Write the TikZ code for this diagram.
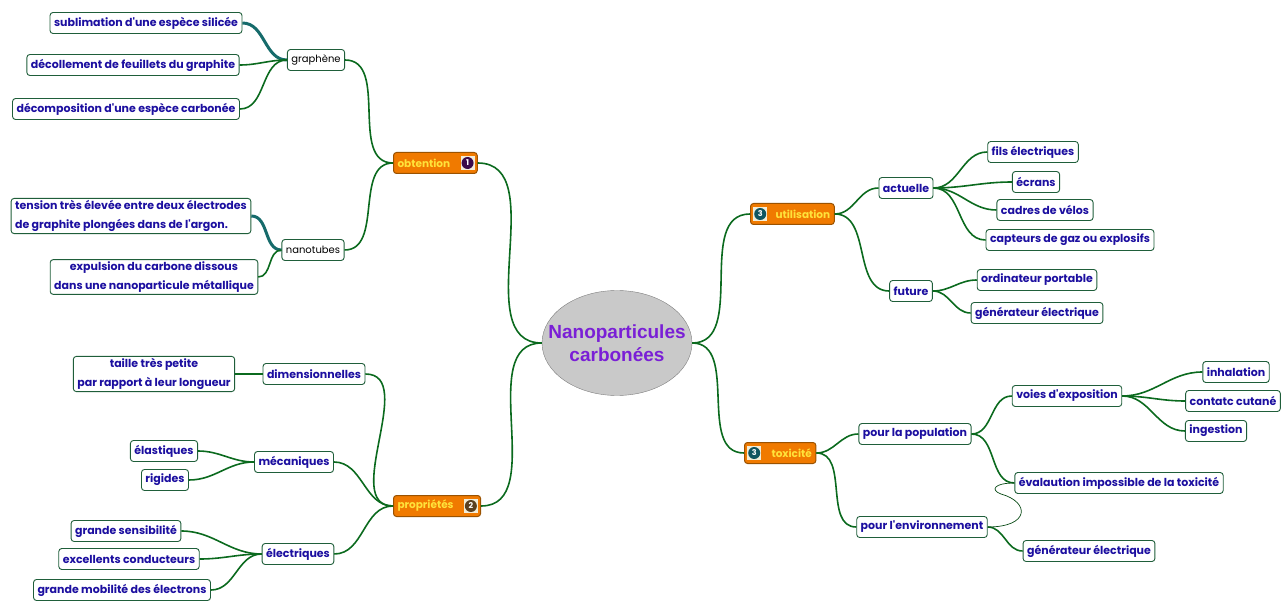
\documentclass[tikz,border=0pt]{standalone}
\usepackage{fontspec}
\setmainfont{Poppins}[Ligatures=TeXOff]
\newfontfamily\arialfont{Liberation Sans}
\usetikzlibrary{positioning,shapes.geometric}

\definecolor{leafblue}{HTML}{1C0FA0}
\definecolor{boxline}{HTML}{1F5E3A}
\definecolor{linkgreen}{HTML}{0B6A1E}
\definecolor{teallink}{HTML}{166B6B}
\definecolor{branchfill}{HTML}{F07A00}
\definecolor{branchline}{HTML}{9A5200}
\definecolor{branchtext}{HTML}{FFE23A}
\definecolor{coregray}{HTML}{C9C9C9}
\definecolor{coretext}{HTML}{7A1FD6}
\definecolor{badgeone}{HTML}{3A0A4A}
\definecolor{badgetwo}{HTML}{5A4020}
\definecolor{badgethree}{HTML}{0F5560}
\definecolor{badgebgcol}{HTML}{F2EDD8}

\tikzset{
  leaf/.style={draw=boxline, line width=0.9pt, fill=white, rounded corners=3pt,
    text=leafblue, font=\bfseries\fontsize{11}{19}\selectfont,
    inner xsep=4pt, inner ysep=2pt, minimum height=21pt},
  plain/.style={leaf, text=black, font=\fontsize{10}{12}\selectfont},
  branch/.style={draw=branchline, line width=1pt, fill=branchfill, rounded corners=3pt,
    text=branchtext, font=\bfseries\fontsize{10.5}{12}\selectfont,
    inner xsep=4pt, inner ysep=0pt, minimum height=21pt},
  badgebg/.style={fill=badgebgcol, minimum size=14pt, inner sep=0pt},
  badge/.style={circle, text=white, font=\bfseries\fontsize{8}{8}\selectfont,
    minimum size=12pt, inner sep=0pt},
  link/.style={draw=linkgreen, line width=1.6pt},
  thick link/.style={draw=teallink, line width=3pt},
  thin link/.style={draw=linkgreen!70!black, line width=0.7pt}
}

\begin{document}
\begin{tikzpicture}[x=1pt, y=-1pt]
    \useasboundingbox (0,0) rectangle (1285,601);

    % centre
    \node[ellipse, draw=gray, fill=coregray, minimum width=150, minimum height=105,
      inner xsep=-22pt, inner ysep=0pt,
      text=coretext, align=center, font=\arialfont\bfseries\fontsize{19}{23}\selectfont]
      (core) at (617,343) {Nanoparticules\\carbonées};

    % obtention
    \node[branch, anchor=west] (obt) at (393,163) {obtention\kern23pt};
    \node[badgebg, left=3pt of obt.east] (obtbg) {};
    \node[badge, fill=badgeone] (obtnum) at (obtbg) {1};
    \node[plain] (gra) at (316,60) {graphène};
    \node[leaf] (sub) at (146,23) {sublimation d'une espèce silicée};
    \node[leaf] (dec) at (133,65) {décollement de feuillets du graphite};
    \node[leaf] (dcp) at (126,109) {décomposition d'une espèce carbonée};
    \node[plain] (nano) at (313,250) {nanotubes};
    \node[leaf, align=left] (ten) at (131,216) {tension très élevée entre deux électrodes\\de graphite plongées dans de l'argon.};
    \node[leaf, align=center] (expu) at (154,277) {expulsion du carbone dissous\\dans une nanoparticule métallique};

    % propriétés
    \node[branch, anchor=west] (prop) at (393,506) {propriétés\kern23pt};
    \node[badgebg, left=3pt of prop.east] (propbg) {};
    \node[badge, fill=badgetwo] (propnum) at (propbg) {2};
    \node[leaf] (dim) at (314,374) {dimensionnelles};
    \node[leaf, align=center] (taille) at (154,374) {taille très petite\\par rapport à leur longueur};
    \node[leaf] (mec) at (294,462) {mécaniques};
    \node[leaf] (ela) at (164,451) {élastiques};
    \node[leaf] (rig) at (165,480) {rigides};
    \node[leaf] (ele) at (298,554) {électriques};
    \node[leaf] (sens) at (126,531) {grande sensibilité};
    \node[leaf] (cond) at (129,559) {excellents conducteurs};
    \node[leaf] (mob) at (122,590) {grande mobilité des électrons};

    % utilisation
    \node[branch, anchor=west] (util) at (750,214) {\kern21pt utilisation};
    \node[badgebg, right=3pt of util.west] (utilbg) {};
    \node[badge, fill=badgethree] (utilnum) at (utilbg) {3};
    \node[leaf] (act) at (906,188) {actuelle};
    \node[leaf] (fils) at (1033,152) {fils électriques};
    \node[leaf] (ecr) at (1036,182) {écrans};
    \node[leaf] (cadr) at (1045,210) {cadres de vélos};
    \node[leaf] (capt) at (1070,240) {capteurs de gaz ou explosifs};
    \node[leaf] (fut) at (911,291) {future};
    \node[leaf] (ordi) at (1037,280) {ordinateur portable};
    \node[leaf] (gen) at (1037,313) {générateur électrique};

    % toxicité
    \node[branch, anchor=west] (tox) at (744,453) {\kern23pt toxicité};
    \node[badgebg, right=3pt of tox.west] (toxbg) {};
    \node[badge, fill=badgethree] (toxnum) at (toxbg) {3};
    \node[leaf] (pop) at (915,434) {pour la population};
    \node[leaf] (voie) at (1067,396) {voies d'exposition};
    \node[leaf] (inh) at (1236,372) {inhalation};
    \node[leaf] (cut) at (1233,401) {contatc cutané};
    \node[leaf] (ing) at (1216,431) {ingestion};
    \node[leaf] (eva) at (1119,483) {évalaution impossible de la toxicité};
    \node[leaf] (env) at (922,527) {pour l'environnement};
    \node[leaf] (gen2) at (1089,551) {générateur électrique};

    % liens
    \draw[link] (core.west) to[out=180,in=0] (obt.east);
    \draw[link] (core.west) to[out=180,in=0] (prop.east);
    \draw[link] (core.east) to[out=0,in=180] (util.west);
    \draw[link] (core.east) to[out=0,in=180] (tox.west);

    \draw[link] (obt.west) to[out=180,in=0] (gra.east);
    \draw[link] (obt.west) to[out=180,in=0] (nano.east);
    \draw[thick link] (gra.west) to[out=180,in=0] (sub.east);
    \draw[link] (gra.west) to[out=180,in=0] (dec.east);
    \draw[link] (gra.west) to[out=180,in=0] (dcp.east);
    \draw[thick link] (nano.west) to[out=180,in=0] (ten.east);
    \draw[link] (nano.west) to[out=180,in=0] (expu.east);

    \draw[link] (prop.west) to[out=180,in=0] (dim.east);
    \draw[link] (prop.west) to[out=180,in=0] (mec.east);
    \draw[link] (prop.west) to[out=180,in=0] (ele.east);
    \draw[link] (dim.west) to[out=180,in=0] (taille.east);
    \draw[link] (mec.west) to[out=180,in=0] (ela.east);
    \draw[link] (mec.west) to[out=180,in=0] (rig.east);
    \draw[link] (ele.west) to[out=180,in=0] (sens.east);
    \draw[link] (ele.west) to[out=180,in=0] (cond.east);
    \draw[link] (ele.west) to[out=180,in=0] (mob.east);

    \draw[link] (util.east) to[out=0,in=180] (act.west);
    \draw[link] (util.east) to[out=0,in=180] (fut.west);
    \draw[link] (act.east) to[out=0,in=180] (fils.west);
    \draw[link] (act.east) to[out=0,in=180] (ecr.west);
    \draw[link] (act.east) to[out=0,in=180] (cadr.west);
    \draw[link] (act.east) to[out=0,in=180] (capt.west);
    \draw[link] (fut.east) to[out=0,in=180] (ordi.west);
    \draw[link] (fut.east) to[out=0,in=180] (gen.west);

    \draw[link] (tox.east) to[out=0,in=180] (pop.west);
    \draw[link] (tox.east) to[out=0,in=180] (env.west);
    \draw[link] (pop.east) to[out=0,in=180] (voie.west);
    \draw[link] (pop.east) to[out=0,in=180] (eva.west);
    \draw[link] (voie.east) to[out=0,in=180] (inh.west);
    \draw[link] (voie.east) to[out=0,in=180] (cut.west);
    \draw[link] (voie.east) to[out=0,in=180] (ing.west);
    \draw[link] (env.east) to[out=0,in=180] (gen2.west);
    \coordinate (boucle) at (1001,494);
    \draw[thin link] (env.east) .. controls (1030,527) and (1030,502) .. (boucle)
      .. controls (990,490) and (994,483) .. (eva.west);
\end{tikzpicture}
\end{document}
